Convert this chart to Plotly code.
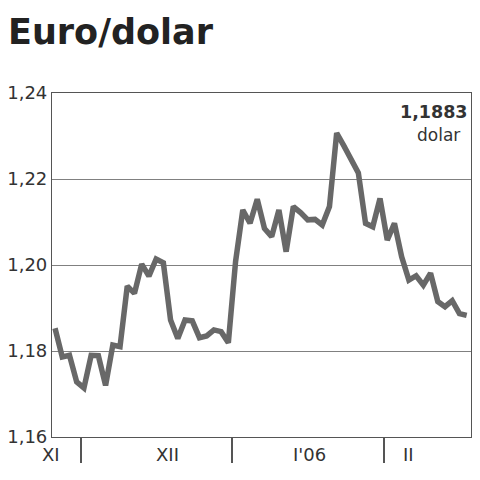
import plotly.graph_objects as go

# Daily EUR/USD values (index = trading day)
values = [1.1853, 1.1786, 1.1790, 1.1728, 1.1714, 1.1790, 1.1789, 1.1720, 1.1814, 1.1810,
          1.1951, 1.1934, 1.2002, 1.1974, 1.2014, 1.2005, 1.1872, 1.1829, 1.1872, 1.1870,
          1.1831, 1.1835, 1.1849, 1.1845, 1.1819, 1.2008, 1.2128, 1.2097, 1.2153, 1.2085,
          1.2066, 1.2128, 1.2031, 1.2136, 1.2122, 1.2105, 1.2106, 1.2093, 1.2136, 1.2307,
          1.2277, 1.2245, 1.2214, 1.2097, 1.2089, 1.2155, 1.2058, 1.2097, 1.2019, 1.1965,
          1.1975, 1.1953, 1.1981, 1.1915, 1.1903, 1.1917, 1.1887, 1.1883]
days = list(range(len(values)))

# month boundaries (in trading-day index) and month labels with their centres
month_bounds = [3.6, 24.5, 45.6]
month_labels = ["XI", "XII", "I'06", "II"]
month_label_pos = [-0.6, 15.6, 35.3, 48.9]

y_ticks = [1.16, 1.18, 1.20, 1.22, 1.24]
y_ticktext = ["1,16", "1,18", "1,20", "1,22", "1,24"]

last_label = "1,1883"
unit_label = "dolar"

font_fam = "'DejaVu Sans', sans-serif"
x_range = [-0.42, 57.6]

fig = go.Figure()
fig.add_trace(go.Scatter(x=days, y=values, mode="lines",
                         line=dict(color="#686868", width=5.5),
                         hoverinfo="skip", showlegend=False))

fig.update_layout(
    width=472, height=472,
    margin=dict(l=44, r=9, t=85, b=43, autoexpand=False),
    paper_bgcolor="white", plot_bgcolor="white",
    font=dict(family=font_fam, color="#333333"),
    title=dict(text="<b>Euro/dolar</b>", x=0.0, xanchor="left",
               y=1 - 11 / 472, yanchor="top",
               font=dict(size=35, color="#222222", family=font_fam)),
    xaxis=dict(range=x_range, showgrid=False, zeroline=False, automargin=False,
               showline=True, linecolor="#555555", linewidth=1.2, mirror=True,
               tickvals=month_bounds, ticks="outside", ticklen=25,
               tickwidth=1.5, tickcolor="#555555", showticklabels=False),
    yaxis=dict(range=[1.16, 1.24], tickvals=y_ticks, ticktext=y_ticktext,
               automargin=False,
               showgrid=True, gridcolor="#808080", gridwidth=1,
               zeroline=False, showline=True, linecolor="#555555",
               linewidth=1.2, mirror=True, ticks="",
               tickfont=dict(size=18, color="#333333")),
)

for lab, pos in zip(month_labels, month_label_pos):
    # convert label centre to paper coordinates so labels outside the range still show
    px = (pos - x_range[0]) / (x_range[1] - x_range[0])
    fig.add_annotation(x=px, y=0, xref="paper", yref="paper", text=lab,
                       showarrow=False, xanchor="center", yanchor="top", yshift=-5,
                       font=dict(size=18, color="#333333"))

fig.add_annotation(x=0.998, y=0.98, xref="paper", yref="paper",
                   text="<b>" + last_label + "</b>", showarrow=False,
                   xanchor="right", yanchor="top",
                   font=dict(size=17.5, color="#333333"))
fig.add_annotation(x=0.979, y=0.913, xref="paper", yref="paper",
                   text=unit_label, showarrow=False,
                   xanchor="right", yanchor="top",
                   font=dict(size=17, color="#333333"))

fig.write_html("out.html")
